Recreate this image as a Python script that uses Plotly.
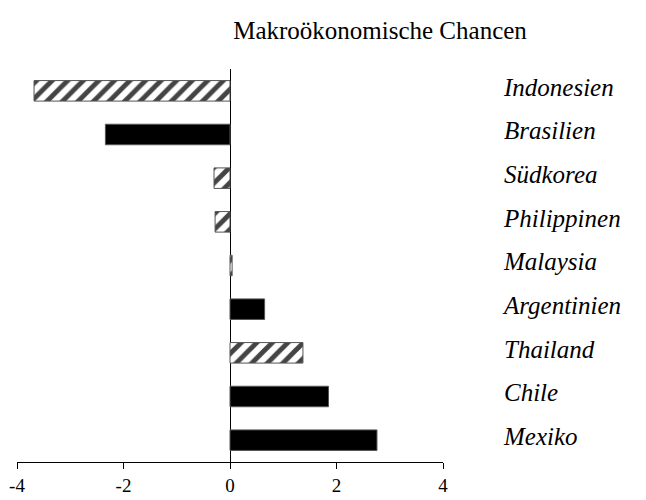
import plotly.graph_objects as go

countries = ["Indonesien", "Brasilien", "Südkorea", "Philippinen", "Malaysia",
             "Argentinien", "Thailand", "Chile", "Mexiko"]
values = [-3.68, -2.34, -0.30, -0.28, 0.04, 0.65, 1.37, 1.85, 2.76]
region = ["Asien", "Lateinamerika", "Asien", "Asien", "Asien",
          "Lateinamerika", "Asien", "Lateinamerika", "Lateinamerika"]
x_ticks = [-4, -2, 0, 2, 4]

fill = {"Asien": "white", "Lateinamerika": "black"}
shape = {"Asien": "/", "Lateinamerika": ""}

serif = "Liberation Serif"

W, H = 638, 492

fig = go.Figure(go.Bar(
    x=values,
    y=countries,
    orientation="h",
    width=0.47,
    marker=dict(
        color=[fill[r] for r in region],
        line=dict(color="#555555", width=1),
        pattern=dict(shape=[shape[r] for r in region], fgcolor="black",
                     bgcolor="white", fgopacity=1, size=11, solidity=0.45),
    ),
    showlegend=False,
))

fig.update_layout(
    width=W, height=H,
    margin=dict(l=8.5, r=203, t=61, b=38, pad=0),
    paper_bgcolor="white", plot_bgcolor="white",
    font=dict(family=serif, color="black"),
    title=dict(text="Makroökonomische Chancen", font=dict(size=25, family=serif),
               x=372 / W, xanchor="center", xref="container",
               y=1 - 22 / H, yanchor="middle", yref="container"),
    xaxis=dict(range=[-4, 4], tickvals=x_ticks, ticktext=[str(v) for v in x_ticks],
               showgrid=False, zeroline=True, zerolinecolor="black", zerolinewidth=1,
               showline=True, linecolor="black", linewidth=1,
               ticks="outside", ticklen=6, tickcolor="black", automargin=False,
               tickfont=dict(size=19, family=serif)),
    yaxis=dict(categoryorder="array", categoryarray=countries,
               range=[8.5, -0.5], side="right", showgrid=False, zeroline=False,
               showline=False, ticks="", ticklabelstandoff=60, ticklabelshift=4,
               automargin=False,
               tickfont=dict(size=25, family=serif, style="italic")),
)

fig.write_html("out.html")
